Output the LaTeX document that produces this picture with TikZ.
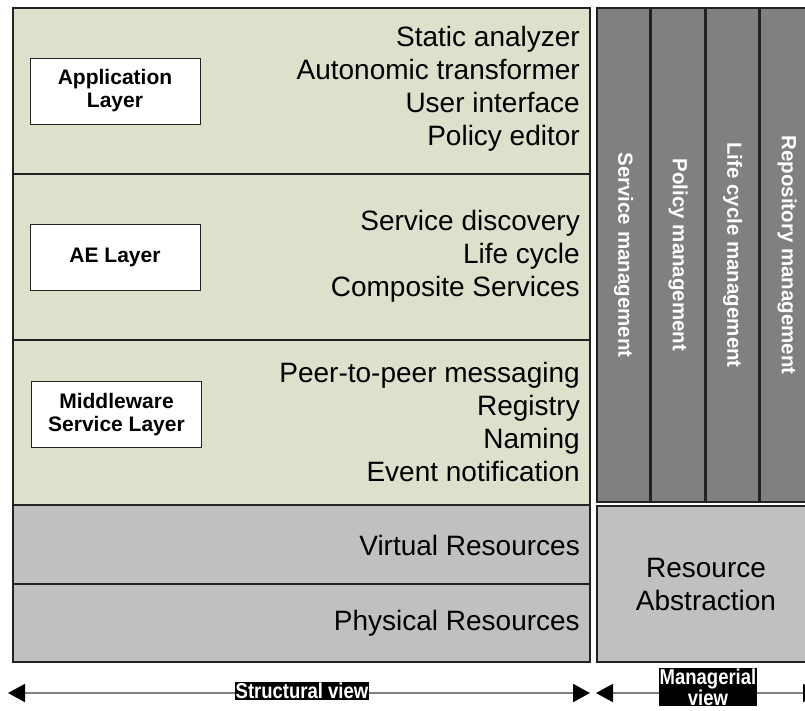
\documentclass[tikz,border=0pt]{standalone}
\usepackage{fontspec}
\setmainfont{Liberation Sans}
\newfontfamily\narrowbold[FakeStretch=0.86]{Liberation Sans Bold}
\usetikzlibrary{arrows.meta}
\definecolor{layergreen}{RGB}{221,224,203}
\definecolor{bargray}{RGB}{128,128,128}
\definecolor{resgray}{RGB}{192,192,192}
\definecolor{edge}{RGB}{34,34,34}
\tikzset{
  layer/.style={draw=edge, line width=1.5pt, fill=layergreen, inner sep=0pt},
  reslayer/.style={draw=edge, line width=1.5pt, fill=resgray, inner sep=0pt},
  mgmtbar/.style={draw=edge, line width=1.5pt, fill=bargray, inner sep=0pt,
    minimum width=53pt, minimum height=494pt},
  layername/.style={draw=edge, line width=1pt, fill=white, minimum width=170pt,
    minimum height=66pt, align=center, font=\fontsize{21}{23}\selectfont\bfseries},
  items/.style={align=right, anchor=east, inner sep=0pt, font=\fontsize{28}{33}\selectfont},
  bartext/.style={rotate=-90, text=white, font=\fontsize{20.5}{22}\selectfont\bfseries},
  viewlabel/.style={fill=black, text=white, inner sep=1pt, align=center,
    font=\fontsize{21.5}{20}\narrowbold},
  viewarrow/.style={draw=bargray, line width=2pt,
    {Triangle[length=17pt,width=18pt,color=black]}-{Triangle[length=17pt,width=18pt,color=black]}}
}
\begin{document}
\begin{tikzpicture}[x=1pt, y=-1pt]
\clip (0,0) rectangle (805,710);
\fill[white] (0,0) rectangle (805,710);

% structural layers
\node[layer, minimum width=577pt, minimum height=166pt] (app) at (301.5,91) {};
\node[layer, minimum width=577pt, minimum height=166pt] (ae) at (301.5,257) {};
\node[layer, minimum width=577pt, minimum height=165pt] (mw) at (301.5,422.5) {};
\node[reslayer, minimum width=577pt, minimum height=79pt] (virt) at (301.5,544.5) {};
\node[reslayer, minimum width=577pt, minimum height=78pt] (phys) at (301.5,623) {};

% layer names
\node[layername] (appname) at (115,91) {Application\\Layer};
\node[layername] (aename) at (115,257) {AE Layer};
\node[layername] (mwname) at (116.5,414.5) {Middleware\\Service Layer};

% layer contents
\node[items] (appitems) at (580,89) {Static analyzer\\Autonomic transformer\\User interface\\Policy editor};
\node[items] (aeitems) at (580,256) {Service discovery\\Life cycle\\Composite Services};
\node[items] (mwitems) at (580,422) {Peer-to-peer messaging\\Registry\\Naming\\Event notification};
\node[items] (virtitems) at (580,545) {Virtual Resources};
\node[items] (physitems) at (580,623) {Physical Resources};

% management bars
\node[mgmtbar] (svc) at (623.5,255) {};
\node[mgmtbar] (pol) at (678,255) {};
\node[mgmtbar] (lcm) at (732.5,255) {};
\node[mgmtbar] (rep) at (787,255) {};
\node[bartext] at (svc.center) {Service management};
\node[bartext] at (pol.center) {Policy management};
\node[bartext] at (lcm.center) {Life cycle management};
\node[bartext] at (rep.center) {Repository management};

% resource abstraction
\node[reslayer, minimum width=218pt, minimum height=156pt, align=center,
  font=\fontsize{28}{33}\selectfont] (resabs) at (706,584) {Resource\\Abstraction};

% views
\coordinate (sL) at (8,693);
\coordinate (sR) at (590,693);
\coordinate (mL) at (596,693);
\coordinate (mR) at (820,693);
\draw[viewarrow] (sL) -- (sR);
\draw[viewarrow] (mL) -- (mR);
\node[viewlabel] (structlbl) at (302,691) {Structural view};
\node[viewlabel] (mgrlbl) at (708,687) {Managerial\\view};
\end{tikzpicture}
\end{document}
